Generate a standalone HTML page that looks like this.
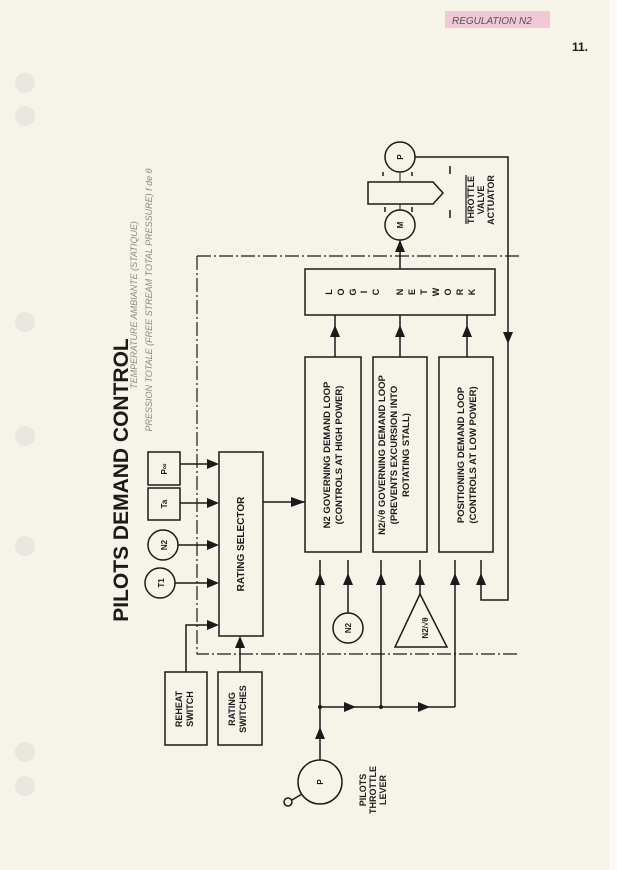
<!DOCTYPE html>
<html><head><meta charset="utf-8"><style>
html,body{margin:0;padding:0;background:#f6f3e9;}
svg{display:block}
text{font-family:"Liberation Sans",sans-serif;font-weight:bold;fill:#1a1a1a}
.hw{font-family:"Liberation Sans",sans-serif;font-weight:normal;fill:#8a8a86;font-style:italic}
</style></head><body>
<svg width="617" height="870" viewBox="0 0 617 870" xmlns="http://www.w3.org/2000/svg">
<rect width="617" height="870" fill="#f6f3e9"/>
<rect x="609" y="0" width="8" height="870" fill="#fbfaf6"/>
<g fill="#e9e7e0">
<circle cx="25" cy="83" r="10"/><circle cx="25" cy="116" r="10"/><circle cx="25" cy="322" r="10"/><circle cx="25" cy="436" r="10"/><circle cx="25" cy="546" r="10"/><circle cx="25" cy="752" r="10"/><circle cx="25" cy="786" r="10"/>
</g>
<rect x="445" y="11" width="105" height="17" fill="#f0c8d6"/>
<text x="452" y="24" class="hw" style="font-size:10px;fill:#555">REGULATION N2</text>
<text x="572" y="51" style="font-size:12px">11.</text>
<text transform="translate(128,480) rotate(-90)" text-anchor="middle" style="font-size:21px">PILOTS DEMAND CONTROL</text>
<text transform="translate(137,305) rotate(-90)" text-anchor="middle" class="hw" style="font-size:9px">TEMPERATURE AMBIANTE (STATIQUE)</text>
<text transform="translate(152,300) rotate(-90)" text-anchor="middle" class="hw" style="font-size:9px">PRESSION TOTALE (FREE STREAM TOTAL PRESSURE) f de θ</text>
<g stroke="#1a1a1a" fill="none" stroke-width="1.5">
<path d="M197,256 H520 M197,256 V654 H520" stroke-dasharray="14,3,2,3" stroke-width="1.2"/>
<circle cx="160" cy="583" r="15"/>
<circle cx="163" cy="545" r="15"/>
<rect x="148" y="488" width="32" height="32"/>
<rect x="148" y="452" width="32" height="33"/>
<path d="M175,583 H215 M178,545 H215 M180,503 H215 M180,464 H215"/>
<rect x="219" y="452" width="44" height="184"/>
<rect x="165" y="672" width="42" height="73"/>
<rect x="218" y="672" width="44" height="73"/>
<path d="M186,672 V625 H215 M240,672 V640"/>
<path d="M263,502 H305"/>
<rect x="305" y="357" width="56" height="195"/>
<rect x="373" y="357" width="54" height="195"/>
<rect x="439" y="357" width="54" height="195"/>
<rect x="305" y="269" width="190" height="46"/>
<path d="M335,357 V315 M400,357 V315 M467,357 V315 M400,269 V240"/>
<circle cx="400" cy="225" r="15"/>
<circle cx="400" cy="157" r="15"/>
<path d="M400,172 V210" stroke-width="1"/>
<path d="M368,182 H433 L443,193 L433,204 H368 Z" fill="#f6f3e9"/>
<path d="M383,172 V176 M385,207 V212 M412,207 V212 M412,172 V176 M450,166 V174 M450,210 V218"/>
<path d="M466,175 V224" stroke-width="1.2"/>
<path d="M415,157 H508 V600 H481 V560"/>
<circle cx="320" cy="782" r="22"/>
<path d="M302,794 L292,800"/>
<circle cx="288" cy="802" r="4"/>
<path d="M320,760 V560 M320,707 H455 M381,707 V560 M455,707 V560"/>
<path d="M348,613 V560"/>
<circle cx="348" cy="628" r="15"/>
<path d="M420,594 L395,647 H447 Z"/>
<path d="M420,594 V560"/>
</g>
<g fill="#1a1a1a">
<path d="M219,583 l-12,-5 v10 z M219,545 l-12,-5 v10 z M219,503 l-12,-5 v10 z M219,464 l-12,-5 v10 z M219,625 l-12,-5 v10 z"/>
<path d="M240,636 l-5,12 h10 z"/>
<path d="M305,502 l-14,-5 v10 z"/>
<path d="M335,325 l-5,12 h10 z M400,325 l-5,12 h10 z M467,325 l-5,12 h10 z M400,240 l-5,12 h10 z"/>
<path d="M508,344 l-5,-12 h10 z"/>
<path d="M320,573 l-5,12 h10 z M348,573 l-5,12 h10 z M381,573 l-5,12 h10 z M420,573 l-5,12 h10 z M455,573 l-5,12 h10 z M481,573 l-5,12 h10 z"/>
<path d="M320,727 l-5,12 h10 z"/>
<path d="M356,707 l-12,-5 v10 z M430,707 l-12,-5 v10 z"/>
<circle cx="320" cy="707" r="2"/><circle cx="381" cy="707" r="2"/>
</g>
<g style="font-size:8px">
<text transform="translate(164,583) rotate(-90)" text-anchor="middle">T1</text>
<text transform="translate(167,545) rotate(-90)" text-anchor="middle">N2</text>
<text transform="translate(167,504) rotate(-90)" text-anchor="middle">Ta</text>
<text transform="translate(167,469) rotate(-90)" text-anchor="middle">P∞</text>
<text transform="translate(244,544) rotate(-90)" text-anchor="middle" style="font-size:10px">RATING SELECTOR</text>
<text transform="translate(184,709) rotate(-90)" text-anchor="middle" style="font-size:9px"><tspan x="0" dy="-2">REHEAT</tspan><tspan x="0" dy="11">SWITCH</tspan></text>
<text transform="translate(237,709) rotate(-90)" text-anchor="middle" style="font-size:9px"><tspan x="0" dy="-2">RATING</tspan><tspan x="0" dy="11">SWITCHES</tspan></text>
<text transform="translate(330,455) rotate(-90)" text-anchor="middle" style="font-size:9.5px"><tspan x="0">N2 GOVERNING DEMAND LOOP</tspan><tspan x="0" dy="12">(CONTROLS AT HIGH POWER)</tspan></text>
<text transform="translate(391,455) rotate(-90)" text-anchor="middle" style="font-size:9.5px"><tspan x="0" dy="-6">N2/√θ GOVERNING DEMAND LOOP</tspan><tspan x="0" dy="12">(PREVENTS EXCURSION INTO</tspan><tspan x="0" dy="12">ROTATING STALL)</tspan></text>
<text transform="translate(464,455) rotate(-90)" text-anchor="middle" style="font-size:9.5px"><tspan x="0">POSITIONING DEMAND LOOP</tspan><tspan x="0" dy="12">(CONTROLS AT LOW POWER)</tspan></text>
<g style="font-size:9px" text-anchor="middle">
<text transform="translate(329,292) rotate(-90)" dy="3">L</text>
<text transform="translate(341,292) rotate(-90)" dy="3">O</text>
<text transform="translate(353,292) rotate(-90)" dy="3">G</text>
<text transform="translate(364,292) rotate(-90)" dy="3">I</text>
<text transform="translate(376,292) rotate(-90)" dy="3">C</text>
<text transform="translate(400,292) rotate(-90)" dy="3">N</text>
<text transform="translate(412,292) rotate(-90)" dy="3">E</text>
<text transform="translate(424,292) rotate(-90)" dy="3">T</text>
<text transform="translate(436,292) rotate(-90)" dy="3">W</text>
<text transform="translate(448,292) rotate(-90)" dy="3">O</text>
<text transform="translate(460,292) rotate(-90)" dy="3">R</text>
<text transform="translate(472,292) rotate(-90)" dy="3">K</text>
</g>
<text transform="translate(403,225) rotate(-90)" text-anchor="middle">M</text>
<text transform="translate(403,157) rotate(-90)" text-anchor="middle">P</text>
<text transform="translate(474,200) rotate(-90)" text-anchor="middle" style="font-size:9px"><tspan x="0">THROTTLE</tspan><tspan x="0" dy="10">VALVE</tspan><tspan x="0" dy="10">ACTUATOR</tspan></text>
<text transform="translate(323,782) rotate(-90)" text-anchor="middle">P</text>
<text transform="translate(366,790) rotate(-90)" text-anchor="middle" style="font-size:9px"><tspan x="0">PILOTS</tspan><tspan x="0" dy="10">THROTTLE</tspan><tspan x="0" dy="10">LEVER</tspan></text>
<text transform="translate(351,628) rotate(-90)" text-anchor="middle">N2</text>
<text transform="translate(428,628) rotate(-90)" text-anchor="middle">N2/√θ</text>
</g>
</svg>
</body></html>
